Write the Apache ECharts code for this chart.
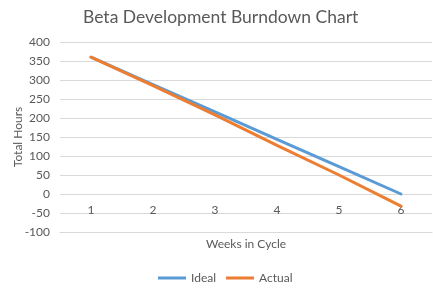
<!DOCTYPE html>
<html>
<head>
<meta charset="utf-8">
<script src="https://cdn.jsdelivr.net/npm/echarts@6/dist/echarts.min.js"></script>
<style>
  html, body { margin: 0; padding: 0; background: #fff; }
  #main { width: 433px; height: 290px; }
</style>
</head>
<body>
<div id="main"></div>
<script>
// weeks and hours
const weeks = ["1", "2", "3", "4", "5", "6"];
const ideal = [360, 288, 216, 144, 72, 0];
const actual = [360, 285, 208, 128, 50, -32];

const textColor = "#595959";
const gridColor = "#d9d9d9";
const font = "Lato";

let chart = echarts.init(document.getElementById("main"));
let option = {
  animation: false,
  textStyle: { fontFamily: font },
  title: {
    text: "Beta Development Burndown Chart",
    left: 78,
    top: 3,
    textStyle: { fontFamily: font, fontSize: 17.5, fontWeight: "normal", color: textColor },
  },
  legend: {
    top: 267,
    left: 153,
    icon: "rect",
    itemWidth: 28,
    itemHeight: 3,
    itemGap: 10,
    textStyle: { fontFamily: font, fontSize: 12, color: textColor },
    data: ["Ideal", "Actual"],
  },
  grid: {
    left: 60,
    right: 1,
    top: 42,
    bottom: 58,
    outerBoundsMode: "none",
  },
  xAxis: {
    type: "category",
    data: weeks,
    name: "Weeks in Cycle",
    nameLocation: "middle",
    nameGap: 6,
    nameTextStyle: { fontFamily: font, fontSize: 12, color: textColor },
    // labels sit just under the zero line, like in the original
    axisLine: { onZero: false, lineStyle: { color: gridColor } },
    axisTick: { show: false },
    axisLabel: { margin: -28, fontSize: 12, color: textColor },
  },
  yAxis: {
    type: "value",
    min: -100,
    max: 400,
    interval: 50,
    name: "Total Hours",
    nameLocation: "middle",
    nameGap: 36,
    nameMoveOverlap: false,
    nameTextStyle: { fontFamily: font, fontSize: 12, color: textColor },
    axisLine: { show: false },
    axisTick: { show: false },
    axisLabel: { margin: 10, fontSize: 12, color: textColor },
    splitLine: { lineStyle: { color: gridColor, width: 1 } },
  },
  series: [
    {
      name: "Ideal",
      type: "line",
      data: ideal,
      symbol: "none",
      color: "#5B9BD5",
      lineStyle: { width: 3, cap: "round" },
    },
    {
      name: "Actual",
      type: "line",
      data: actual,
      symbol: "none",
      color: "#ED7D31",
      lineStyle: { width: 3, cap: "round" },
    },
  ],
};
chart.setOption(option);
</script>
</body>
</html>
